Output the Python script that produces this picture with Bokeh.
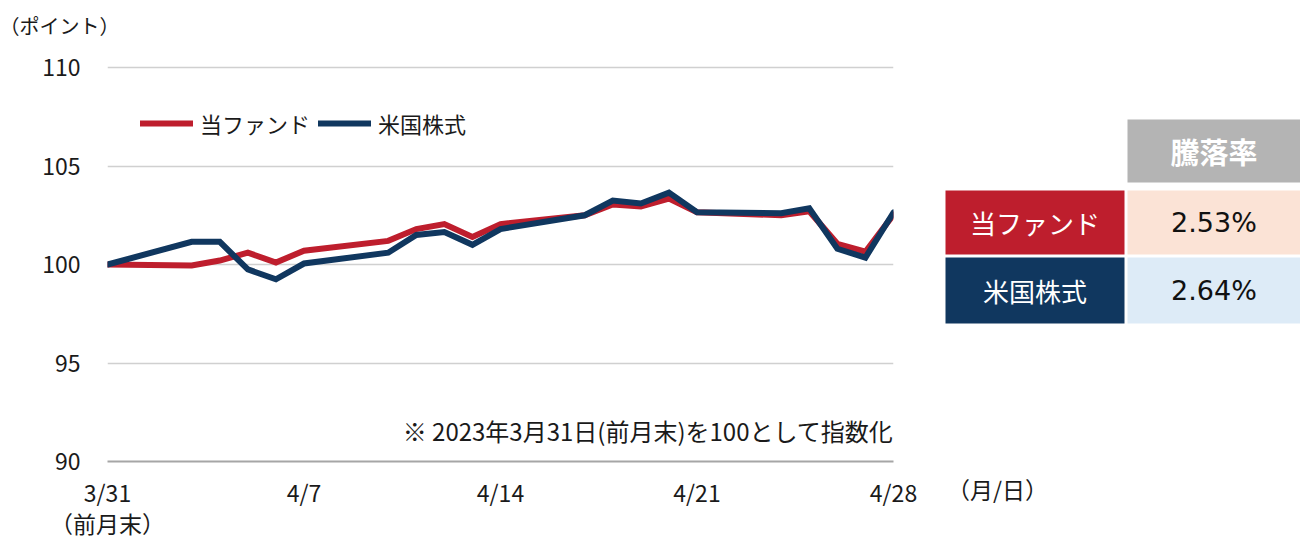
import pandas as pd
from bokeh.plotting import figure
from bokeh.models import Range1d, FixedTicker, Label, Legend, LegendItem, ColumnDataSource
from bokeh.layouts import row
from bokeh.embed import file_html
from bokeh.resources import INLINE
from bokeh.core.properties import value

# ---------------- data ----------------
dates = ["2023-03-31", "2023-04-03", "2023-04-04", "2023-04-05", "2023-04-06", "2023-04-07",
         "2023-04-10", "2023-04-11", "2023-04-12", "2023-04-13", "2023-04-14",
         "2023-04-17", "2023-04-18", "2023-04-19", "2023-04-20", "2023-04-21",
         "2023-04-24", "2023-04-25", "2023-04-26", "2023-04-27", "2023-04-28"]
fund = [100.0, 99.95, 100.2, 100.6, 100.1, 100.7,
        101.2, 101.8, 102.05, 101.4, 102.05,
        102.5, 103.05, 102.95, 103.35, 102.65,
        102.5, 102.7, 101.05, 100.65, 102.53]
us_stock = [100.0, 101.15, 101.15, 99.75, 99.25, 100.05,
            100.6, 101.5, 101.65, 101.0, 101.8,
            102.5, 103.25, 103.1, 103.65, 102.65,
            102.6, 102.85, 100.8, 100.35, 102.64]
series_names = ["当ファンド", "米国株式"]
returns = ["2.53%", "2.64%"]
table_header = "騰落率"
tick_dates = ["2023-03-31", "2023-04-07", "2023-04-14", "2023-04-21", "2023-04-28"]
tick_labels = ["3/31\n（前月末）", "4/7", "4/14", "4/21", "4/28"]
y_ticks = [90, 95, 100, 105, 110]
y_unit = "（ポイント）"
x_unit = "（月/日）"
note = "※ 2023年3月31日(前月末)を100として指数化"

# ---------------- style ----------------
FONT = "Noto Sans CJK JP"
RED = "#BE1E2D"
BLUE = "#10375F"
TXT = "#1A1A1A"

d0 = pd.Timestamp(dates[0])
x = [(pd.Timestamp(d) - d0).days for d in dates]
tx = [(pd.Timestamp(d) - d0).days for d in tick_dates]

H = 543
FR_L, FR_R, FR_T, FR_B = 107, 893, 65, 461
PX_PER_UNIT = (461 - 67) / (y_ticks[-1] - y_ticks[0])
Y_END = y_ticks[-1] + (67 - FR_T) / PX_PER_UNIT
CH_W = 933
p = figure(width=CH_W, height=H, x_range=Range1d(tx[0], tx[-1]), y_range=Range1d(y_ticks[0], Y_END),
           output_backend="svg", toolbar_location=None,
           min_border_left=FR_L, min_border_right=CH_W - FR_R, min_border_top=FR_T, min_border_bottom=H - FR_B)
p.outline_line_color = None
p.xgrid.visible = False
p.ygrid.ticker = FixedTicker(ticks=y_ticks)
p.ygrid.grid_line_color = "#D0D0D0"
p.ygrid.grid_line_width = 1.6

p.title.text = y_unit + "\n"
p.title.align = "left"
p.title.offset = -108
p.title.text_font = FONT
p.title.text_font_size = "20px"
p.title.text_line_height = 0.7
p.title.text_font_style = "normal"
p.title.text_color = TXT

p.yaxis.ticker = FixedTicker(ticks=y_ticks)
p.yaxis.axis_line_color = None
p.yaxis.major_tick_line_color = None
p.yaxis.minor_tick_line_color = None
p.yaxis.major_label_standoff = 21
p.yaxis.major_label_text_font = FONT
p.yaxis.major_label_text_font_size = "23px"
p.yaxis.major_label_text_color = TXT

p.xaxis.ticker = FixedTicker(ticks=tx)
p.xaxis.major_label_overrides = {t: l for t, l in zip(tx, tick_labels)}
p.xaxis.axis_line_color = "#A6A6A6"
p.xaxis.axis_line_width = 2
p.xaxis.major_tick_line_color = None
p.xaxis.minor_tick_line_color = None
p.xaxis.major_label_standoff = 7
p.xaxis.major_label_text_font = FONT
p.xaxis.major_label_text_font_size = "23px"
p.xaxis.major_label_text_line_height = 0.94
p.xaxis.major_label_text_color = TXT

r1 = p.line(x, fund, line_color=RED, line_width=6, line_join="miter", line_cap="round")
r2 = p.line(x, us_stock, line_color=BLUE, line_width=6, line_join="miter", line_cap="round")

legend = Legend(items=[LegendItem(label=series_names[0], renderers=[r1]),
                       LegendItem(label=series_names[1], renderers=[r2])],
                orientation="horizontal", location=(33, 322), border_line_color=None,
                background_fill_alpha=0, padding=0, margin=0, spacing=8, label_standoff=7,
                glyph_width=53, glyph_height=20, label_text_font=FONT, label_text_font_size="22px",
                label_text_color=TXT)
p.add_layout(legend)

p.add_layout(Label(x=FR_R - FR_L, y=31, x_units="screen", y_units="screen", text=note,
                   text_align="right", text_baseline="middle", text_font=FONT,
                   text_font_size="24px", text_color=TXT))

# ---------------- table ----------------
TW = 1300 - CH_W
t = figure(width=TW, height=H, x_range=Range1d(0, TW), y_range=Range1d(FR_B, FR_T),
           output_backend="svg", toolbar_location=None,
           min_border_left=0, min_border_right=0, min_border_top=FR_T, min_border_bottom=H - FR_B,
           x_axis_location="below", y_axis_location=None)
t.outline_line_color = None
t.grid.visible = False
unit_x = 970 - CH_W
t.xaxis.ticker = FixedTicker(ticks=[unit_x])
t.xaxis.major_label_overrides = {unit_x: x_unit}
t.xaxis.axis_line_color = None
t.xaxis.major_tick_line_color = None
t.xaxis.minor_tick_line_color = None
t.xaxis.major_label_standoff = 4
t.xaxis.major_label_text_font = FONT
t.xaxis.major_label_text_font_size = "23px"
t.xaxis.major_label_text_color = TXT

X0 = 945 - CH_W
XM = 1124 - CH_W
XV = 1127 - CH_W
row_top = [190, 257]
row_bot = [254, 323]
src = ColumnDataSource(dict(name=series_names, ret=returns, top=row_top, bottom=row_bot,
                            mid=[(a + b) / 2 for a, b in zip(row_top, row_bot)],
                            fill=[RED, BLUE], vfill=["#FBE3D6", "#DDEBF7"]))
t.quad(left=XV, right=TW, top=119, bottom=182, fill_color="#B4B4B4", line_color=None)
t.text(x=[(XV + TW) / 2], y=[150.5], text=[table_header], text_align="center", text_baseline="middle",
       text_font=value(FONT), text_font_size=value("29px"), text_font_style="bold", text_color="white")
t.quad(left=X0, right=XM, top="top", bottom="bottom", fill_color="fill", line_color=None, source=src)
t.quad(left=XV, right=TW, top="top", bottom="bottom", fill_color="vfill", line_color=None, source=src)
t.text(x=(X0 + XM) / 2, y="mid", text="name", source=src, text_align="center", text_baseline="middle",
       text_font=value(FONT), text_font_size=value("26px"), text_color="white")
t.text(x=(XV + TW) / 2, y="mid", text="ret", source=src, text_align="center", text_baseline="middle",
       text_font=value("DejaVu Sans"), text_font_size=value("27px"), text_color="#111111")

layout = row(p, t)
open("out.html", "w").write(file_html(layout, INLINE))
